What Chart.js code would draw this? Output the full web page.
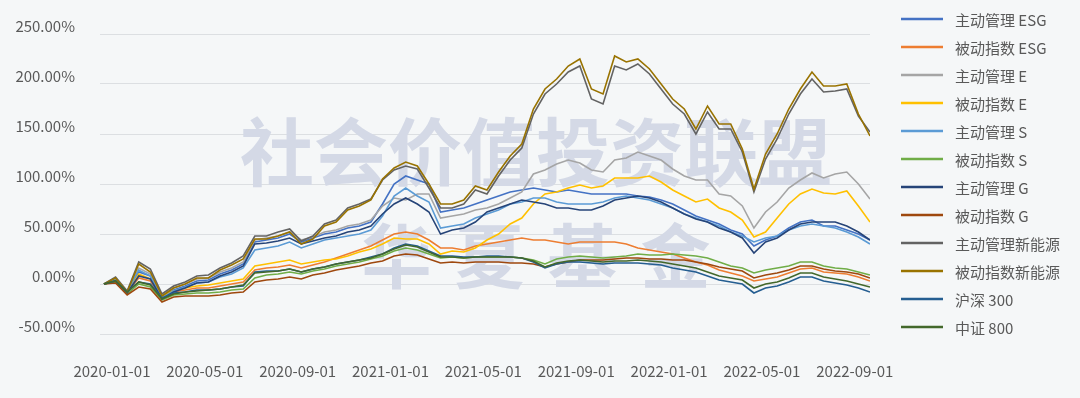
<!DOCTYPE html>
<html>
<head>
<meta charset="utf-8">
<script src="https://cdn.jsdelivr.net/npm/chart.js@4.4.1/dist/chart.umd.min.js"></script>
<style>
  html, body { margin: 0; padding: 0; background: #f5f7f8; }
  #wrap { position: relative; width: 1080px; height: 398px; }
</style>
</head>
<body>
<div id="wrap"><canvas id="navChart"></canvas></div>
<script>
(function() {
  /* one reading every half month, starting 2020-01-01 */
  var stepMonths = 0.5;
  var tickMonths = [0, 4, 8, 12, 16, 20, 24, 28, 32];
  var tickLabels = ['2020-01-01', '2020-05-01', '2020-09-01', '2021-01-01', '2021-05-01',
                    '2021-09-01', '2022-01-01', '2022-05-01', '2022-09-01'];
  var yTicks = [-50, 0, 50, 100, 150, 200, 250];

  var seriesNames = ['主动管理 ESG', '被动指数 ESG', '主动管理 E', '被动指数 E', '主动管理 S', '被动指数 S',
                     '主动管理 G', '被动指数 G', '主动管理新能源', '被动指数新能源', '沪深 300', '中证 800'];
  var seriesColors = ['#4472C4', '#ED7D31', '#A5A5A5', '#FFC000', '#5B9BD5', '#70AD47',
                      '#264478', '#9E480E', '#636363', '#997300', '#255E91', '#43682B'];

  /* cumulative return, % */
  var activeESG = [0,4,-8,12,8,-13,-6,-2,3,4, 10,14,20,42,44,46,50,42,46,50, 52,56,58,62,80,100,108,104,100,72,
    74,76,80,84,88,92,94,96,94,92, 94,92,90,90,90,90,88,87,84,80, 74,68,64,60,54,50,38,44,48,56, 62,64,58,58,54,50,44];
  var passiveESG = [0,3,-8,6,3,-14,-8,-6,-4,-4, -2,0,2,14,16,17,19,16,19,22, 26,30,34,38,44,50,52,50,44,36,
    36,34,38,40,42,44,46,44,44,42, 40,42,42,42,42,40,36,34,32,30, 26,22,19,14,11,8,3,5,7,11, 15,16,12,11,10,7,3];
  var activeE = [0,5,-7,16,10,-12,-4,0,5,6, 12,16,22,44,46,48,52,44,47,52, 54,58,60,64,78,86,84,90,90,66,
    68,70,74,76,80,86,92,110,114,120, 124,121,114,112,124,126,132,128,124,115, 108,104,104,90,88,78,56,72,82,96, 104,111,106,110,112,100,85];
  var passiveE = [0,3,-8,10,5,-12,-7,-4,-2,-1, 1,3,5,18,20,22,24,20,22,24, 25,28,32,35,40,46,45,45,40,30,
    33,32,36,44,50,60,66,80,90,92, 96,99,96,98,106,106,106,108,102,94, 88,82,85,76,72,64,47,52,66,80, 90,95,91,90,93,78,62];
  var activeS = [0,4,-8,14,8,-14,-7,-3,1,2, 7,10,16,34,36,38,42,36,40,44, 46,48,50,54,68,88,96,88,82,56,
    58,60,66,70,74,80,82,86,86,82, 80,80,80,82,86,88,86,84,80,76, 70,66,62,58,52,48,42,46,48,54, 58,60,58,56,52,47,40];
  var passiveS = [0,2,-10,0,-3,-16,-11,-10,-9,-9, -8,-6,-5,6,9,10,12,10,13,15, 18,20,22,25,28,33,36,34,30,26,
    27,26,27,27,27,27,26,24,20,25, 27,28,27,26,27,28,30,29,29,30, 29,28,26,22,18,16,11,14,16,18, 22,22,18,16,15,12,9];
  var activeG = [0,3,-9,8,5,-15,-8,-4,1,2, 8,12,18,40,41,43,46,40,43,46, 48,52,54,58,70,80,86,80,72,50,
    54,56,62,72,76,80,84,82,80,76, 76,74,74,78,84,86,88,86,82,76, 70,65,62,56,52,46,31,42,46,54, 60,62,62,62,58,52,44];
  var passiveG = [0,1,-11,-3,-5,-18,-13,-12,-12,-12, -11,-9,-8,2,4,5,7,5,9,11, 14,16,18,21,23,28,30,29,25,21,
    22,21,22,22,22,21,21,20,17,20, 22,24,24,24,25,26,26,25,25,24, 24,22,20,17,15,13,6,9,11,14, 18,18,15,13,12,10,6];
  var activeNE = [0,7,-7,22,15,-10,-2,2,8,9, 16,21,28,48,48,52,55,43,48,60, 64,76,80,85,104,114,118,115,96,76,
    76,80,94,90,108,124,136,170,190,200, 212,218,185,180,218,214,220,210,195,180, 170,150,172,155,155,132,92,125,145,170, 190,205,192,193,195,168,152];
  var passiveNE = [0,6,-8,20,12,-12,-4,0,6,6, 14,19,25,45,45,48,52,40,45,58, 62,74,78,84,105,116,122,118,100,80,
    80,84,98,94,112,128,140,175,195,205, 218,225,195,190,228,222,225,215,200,185, 175,155,178,160,160,135,95,130,150,175, 195,212,198,198,200,170,148];
  var hs300 = [0,3,-8,2,0,-14,-9,-8,-6,-6, -5,-3,-2,12,13,13,15,12,15,17, 20,22,24,27,30,36,40,38,33,28,
    28,27,27,28,28,27,26,22,16,20, 22,22,21,20,21,21,21,20,19,16, 14,12,8,4,2,0,-9,-4,-2,2, 7,7,3,1,-1,-4,-8];
  var csi800 = [0,3,-8,2,-1,-15,-10,-8,-7,-6, -5,-3,-1,11,12,13,15,12,15,17, 20,22,24,26,30,35,39,37,32,27,
    27,26,27,27,27,27,26,23,17,21, 23,24,23,22,23,23,24,23,22,20, 18,16,12,8,6,4,-4,0,2,6, 11,11,7,5,3,0,-3];

  var seriesValues = [activeESG, passiveESG, activeE, passiveE, activeS, passiveS,
                      activeG, passiveG, activeNE, passiveNE, hs300, csi800];

  var fontFamily = '"Noto Sans CJK SC", "Noto Sans", sans-serif';
  var textColor = '#595959';

  var datasets = seriesValues.map(function(vals, s) {
    return {
      label: seriesNames[s],
      data: vals.map(function(v, i) { return { x: i * stepMonths, y: v }; }),
      borderColor: seriesColors[s],
      backgroundColor: seriesColors[s],
      borderWidth: 1.6,
      pointRadius: 0,
      tension: 0,
      fill: false,
      order: -s   /* later series drawn on top, like the spreadsheet */
    };
  });

  /* Light watermark behind the lines */
  var watermarkPlugin = {
    id: 'watermark',
    beforeDatasetsDraw: function(chart) {
      var c = chart.ctx;
      var cx = chart.width / 2;
      c.save();
      c.fillStyle = '#d4d9e6';
      c.textAlign = 'center';
      c.textBaseline = 'middle';
      c.font = 'bold 74px ' + fontFamily;
      c.fillText('社会价值投资联盟', cx - 4, 152);
      var chars = ['华', '夏', '基', '金'];
      c.font = 'bold 70px ' + fontFamily;
      for (var i = 0; i < chars.length; i++) {
        c.fillText(chars[i], cx - 4 + (i - 1.5) * 93, 256);
      }
      c.restore();
    }
  };

  /* Legend on the right: short line + label */
  var legendPlugin = {
    id: 'sideLegend',
    afterDraw: function(chart) {
      var c = chart.ctx;
      var x0 = chart.chartArea.right + 31;
      c.save();
      c.font = '15px ' + fontFamily;
      c.textBaseline = 'middle';
      c.textAlign = 'left';
      chart.data.datasets.forEach(function(ds, i) {
        var y = 19 + i * 28;
        c.strokeStyle = ds.borderColor;
        c.lineWidth = 2.5;
        c.beginPath();
        c.moveTo(x0, y);
        c.lineTo(x0 + 42, y);
        c.stroke();
        c.fillStyle = textColor;
        c.fillText(ds.label, x0 + 54, y + 1);
      });
      c.restore();
    }
  };

  new Chart(document.getElementById('navChart'), {
    type: 'line',
    data: { datasets: datasets },
    options: {
      responsive: true,
      maintainAspectRatio: false,
      animation: false,
      layout: { padding: { top: 28, right: 210, bottom: 0, left: 0 } },
      plugins: {
        legend: { display: false },
        tooltip: { enabled: false }
      },
      scales: {
        x: {
          type: 'linear',
          min: -0.17,
          max: 33,
          afterBuildTicks: function(scale) {
            scale.ticks = tickMonths.map(function(v) { return { value: v }; });
          },
          afterFit: function(scale) { scale.height = 64; },
          grid: { display: false },
          border: { display: false },
          ticks: {
            autoSkip: false,
            maxRotation: 0,
            padding: 20,
            labelOffset: 8,
            color: textColor,
            font: { size: 15, family: fontFamily },
            callback: function(value) { return tickLabels[tickMonths.indexOf(value)]; }
          }
        },
        y: {
          min: -50,
          max: 250,
          afterBuildTicks: function(scale) {
            scale.ticks = yTicks.map(function(v) { return { value: v }; });
          },
          afterFit: function(scale) { scale.width = 100; },
          grid: { color: '#dcdfe2', lineWidth: 1, drawTicks: false },
          border: { display: false },
          ticks: {
            padding: 25,
            labelOffset: -8,
            color: textColor,
            font: { size: 15, family: fontFamily },
            callback: function(value) { return value.toFixed(2) + '%'; }
          }
        }
      }
    },
    plugins: [watermarkPlugin, legendPlugin]
  });
})();
</script>
</body>
</html>
